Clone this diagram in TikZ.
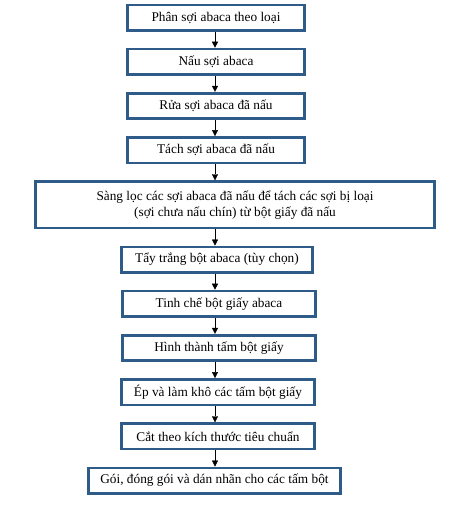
\documentclass[tikz,border=0pt]{standalone}
\usepackage{fontspec}
\setmainfont{Liberation Serif}
\usepackage{tikz}
\usetikzlibrary{arrows.meta,positioning}

\definecolor{boxblue}{HTML}{2E5B88}

\begin{document}
\begin{tikzpicture}[
    x=1pt, y=-1pt,
    node distance=16.2pt,
    box/.style={rectangle, draw=boxblue, line width=2.6pt, fill=white, minimum width=177pt, minimum height=25.4pt, inner sep=2pt, align=center, font=\fontsize{13.3}{16}\selectfont},
    arrow/.style={-{Triangle[length=6pt,width=6pt]}, thin},
]
    \useasboundingbox (0,0) rectangle (457,515);

    % Steps
    \node[box] (sort) at (216,17.5) {Phân sợi abaca theo loại};
    \node[box, below=of sort] (cook) {Nấu sợi abaca};
    \node[box, below=of cook] (wash) {Rửa sợi abaca đã nấu};
    \node[box, below=of wash] (split) {Tách sợi abaca đã nấu};
    \node[box, below=of split, xshift=19pt, minimum width=399pt, minimum height=46.4pt] (screen) {Sàng lọc các sợi abaca đã nấu để tách các sợi bị loại\\(sợi chưa nấu chín) từ bột giấy đã nấu};
    \node[box, below=of screen, xshift=-18pt, minimum width=191.4pt] (bleach) {Tẩy trắng bột abaca (tùy chọn)};
    \node[box, below=of bleach, xshift=2pt, minimum width=193pt] (refine) {Tinh chế bột giấy abaca};
    \node[box, below=of refine, minimum width=193pt] (form) {Hình thành tấm bột giấy};
    \node[box, below=of form, xshift=-1pt, minimum width=193pt] (press) {Ép và làm khô các tấm bột giấy};
    \node[box, below=of press, minimum width=193pt] (cut) {Cắt theo kích thước tiêu chuẩn};
    \node[box, below=of cut, xshift=-3.5pt, minimum width=252pt] (pack) {Gói, đóng gói và dán nhãn cho các tấm bột};

    % Arrows
    \coordinate (axis) at (215,0);
    \draw[arrow] (axis |- sort.south) -- (axis |- cook.north);
    \draw[arrow] (axis |- cook.south) -- (axis |- wash.north);
    \draw[arrow] (axis |- wash.south) -- (axis |- split.north);
    \draw[arrow] (axis |- split.south) -- (axis |- screen.north);
    \draw[arrow] (axis |- screen.south) -- (axis |- bleach.north);
    \draw[arrow] (axis |- bleach.south) -- (axis |- refine.north);
    \draw[arrow] (axis |- refine.south) -- (axis |- form.north);
    \draw[arrow] (axis |- form.south) -- (axis |- press.north);
    \draw[arrow] (axis |- press.south) -- (axis |- cut.north);
    \draw[arrow] (axis |- cut.south) -- (axis |- pack.north);
\end{tikzpicture}
\end{document}
